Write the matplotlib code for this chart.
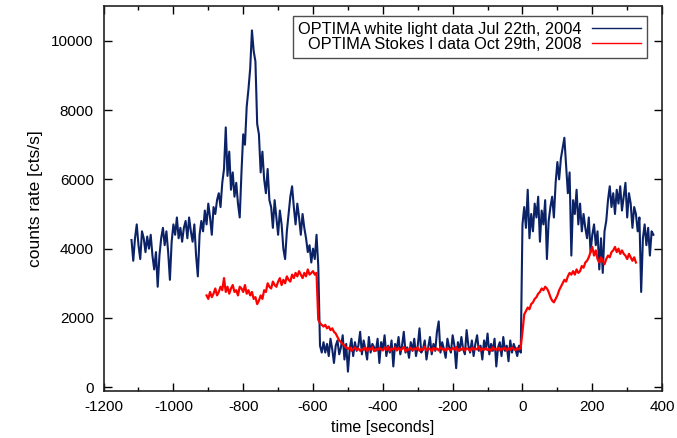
import matplotlib
matplotlib.use('Agg')
import matplotlib.pyplot as plt
import numpy as np
from matplotlib.ticker import MultipleLocator

plt.rcParams['font.family'] = ['Liberation Sans', 'DejaVu Sans']
plt.rcParams['axes.unicode_minus'] = False

# white light curve, Jul 22 2004 (5 s bins)
blue_t = np.arange(-1120, 376, 5)
blue_counts = [
    4250, 3650, 4300, 4700, 4100, 3700, 4500, 4300, 3900, 4350,
    4000, 4400, 3800, 3400, 3900, 2900, 3800, 4300, 4600, 4100,
    4500, 3900, 3100, 4200, 4700, 4400, 4900, 4300, 4600, 4200,
    4600, 4800, 4300, 4900, 4500, 4200, 4700, 3800, 3200, 4400,
    4800, 4500, 5100, 4700, 5300, 4900, 4400, 5200, 5000, 5400,
    5600, 5200, 5900, 6300, 7500, 6100, 6800, 5700, 6200, 5500,
    5900, 5300, 4900, 6200, 7300, 7000, 8100, 8600, 9200, 10300,
    9700, 9400, 7600, 7300, 6200, 6800, 6000, 5600, 6300, 5400,
    5200, 4600, 5400, 4900, 4400, 5100, 4700, 4000, 3700, 4500,
    5000, 5500, 5800, 5200, 4700, 5300, 4900, 4400, 5000, 4600,
    4300, 3900, 4100, 3600, 4000, 3700, 4400, 3500, 1200, 1000,
    1300, 1000, 1250, 900, 1400, 1100, 700, 1200, 1350, 950,
    1150, 1500, 800, 1250, 450, 1100, 1400, 900, 1300, 1050,
    1200, 1600, 950, 1350, 1100, 800, 1450, 1000, 1250, 1150,
    1050, 1400, 700, 1300, 1100, 1500, 900, 1200, 1000, 1350,
    600, 1250, 1100, 1450, 950, 1200, 1600, 1000, 1150, 850,
    1300, 1050, 1400, 900, 1200, 1700, 1000, 1100, 1350, 800,
    1150, 1450, 950, 1250, 1050, 1600, 1900, 1000, 1300, 1100,
    850, 1400, 1150, 1000, 1500, 1200, 550, 1300, 1050, 1450,
    1100, 950, 1650, 1200, 1000, 1350, 900, 1250, 1500, 1050,
    1200, 800, 1350, 1100, 1550, 950, 1250, 1050, 1400, 600,
    1150, 1300, 900, 1450, 1050, 1200, 750, 1350, 1000, 1250,
    1100, 900, 1200, 1000, 4700, 5200, 4600, 5700, 4300, 5000,
    4500, 5300, 4900, 5500, 4200, 5100, 4700, 5400, 3700, 4800,
    5200, 5500, 4900, 5900, 6500, 6000, 6600, 6900, 7200, 6400,
    5600, 6200, 3800, 5400, 5000, 5700, 4700, 5300, 4500, 5000,
    4600, 4300, 4900, 3900, 4400, 4700, 4100, 4500, 3400, 4300,
    3300, 4500, 4800, 5400, 5800, 5200, 5600, 5000, 5700, 5300,
    5800, 5100, 5500, 5900, 4900, 5600, 5300, 4600, 5200, 5000,
    4500, 4900, 2750, 4300, 4700, 4100, 4600, 3800, 4500, 4400,
]

# Stokes I curve, Oct 29 2008
red_t = np.arange(-905, 326, 5)
red_counts = [
    2650, 2550, 2750, 2600, 2700, 2850, 2650, 2750, 2900, 2800,
    3150, 2750, 2900, 2700, 2850, 2950, 2750, 2800, 2650, 2900,
    2850, 2750, 2950, 2700, 2800, 2650, 2750, 2550, 2600, 2400,
    2500, 2650, 2550, 2800, 2750, 3000, 2900, 2850, 3050, 2950,
    2900, 3050, 3150, 2950, 3100, 3000, 3200, 3100, 3050, 3250,
    3150, 3300, 3200, 3350, 3250, 3150, 3300, 3200, 3400, 3250,
    3300, 3350, 3250, 3300, 1950, 1850, 1800, 1750, 1800, 1700,
    1750, 1650, 1700, 1600, 1550, 1450, 1350, 1300, 1250, 1200,
    1150, 1100, 1150, 1050, 1100, 1150, 1080, 1120, 1050, 1100,
    1080, 1150, 1050, 1120, 1090, 1160, 1040, 1110, 1070, 1130,
    1100, 1060, 1140, 1080, 1170, 1050, 1120, 1090, 1150, 1060,
    1130, 1070, 1110, 1160, 1040, 1100, 1080, 1140, 1060, 1120,
    1090, 1150, 1050, 1110, 1080, 1170, 1060, 1120, 1100, 1040,
    1140, 1080, 1120, 1060, 1150, 1090, 1110, 1050, 1130, 1100,
    1070, 1130, 1090, 1160, 1050, 1110, 1080, 1140, 1060, 1120,
    1100, 1050, 1140, 1080, 1120, 1090, 1170, 1060, 1110, 1080,
    1130, 1070, 1110, 1050, 1150, 1100, 1080, 1140, 1060, 1120,
    1090, 1140, 1060, 1120, 1080, 1150, 1100, 1070, 1130, 1090,
    1150, 1600, 2100, 2200, 2300, 2250, 2400, 2450, 2550, 2600,
    2700, 2750, 2850, 2800, 2900, 2850, 2750, 2600, 2500, 2450,
    2550, 2650, 2800, 2900, 3000, 3100, 3050, 3200, 3300, 3250,
    3350, 3250, 3400, 3300, 3350, 3500, 3450, 3600, 3650, 3750,
    3900, 4050, 3800, 3950, 3700, 3600, 3750, 3650, 3550, 3700,
    3800, 3750, 3900, 3950, 4050, 3900, 4000, 3850, 3950, 3850,
    3800, 3700, 3850, 3750, 3650, 3750, 3600,
]

label_blue = 'OPTIMA white light data Jul 22th, 2004'
label_red = 'OPTIMA Stokes I data Oct 29th, 2008'

fig = plt.figure(figsize=(6.77, 4.38), dpi=100)
ax = fig.add_axes([0.153, 0.108, 0.825, 0.878])

ax.plot(blue_t, blue_counts, color='#0b2266', lw=1.5, label=label_blue)
ax.plot(red_t, red_counts, color='#ff0000', lw=1.6, label=label_red)

ax.set_xlim(-1200, 400)
ax.set_ylim(-100, 11000)
ax.xaxis.set_major_locator(MultipleLocator(200))
ax.xaxis.set_minor_locator(MultipleLocator(100))
ax.yaxis.set_major_locator(MultipleLocator(2000))
ax.tick_params(which='both', direction='in', top=True, right=True, labelsize=11, pad=7)
ax.tick_params(which='major', length=6, width=1)
ax.tick_params(which='minor', length=3, width=1)
for s in ax.spines.values():
    s.set_linewidth(1.2)
    s.set_color('#222222')

ax.set_xlabel('time [seconds]', fontsize=11.5, labelpad=4)
ax.set_ylabel('counts rate [cts/s]', fontsize=12.5, labelpad=6)

leg = ax.legend(loc='upper right', bbox_to_anchor=(0.987, 0.995), markerfirst=False,
                fontsize=11.8, frameon=True, fancybox=False, handlelength=3.0,
                borderpad=0.35, labelspacing=0.0, handletextpad=0.6)
leg.get_frame().set_edgecolor('#222222')
leg.get_frame().set_linewidth(1.0)
for t in leg.get_texts():
    t.set_ha('right')
for h in leg.get_lines():
    h.set_linewidth(1.0)

plt.savefig('out.png', dpi=100)
plt.close()
